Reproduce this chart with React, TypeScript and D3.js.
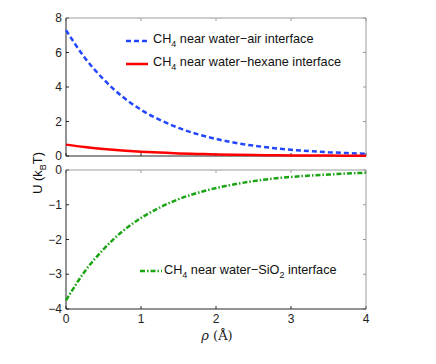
import React from "react";
import * as d3 from "d3";

const rho = [0, 0.25, 0.5, 0.75, 1, 1.25, 1.5, 1.75, 2, 2.25, 2.5, 2.75, 3, 3.25, 3.5, 3.75, 4];
const airU = [7.3, 5.7, 4.45, 3.45, 2.68, 2.1, 1.63, 1.27, 0.99, 0.77, 0.6, 0.47, 0.36, 0.28, 0.22, 0.17, 0.13];
const hexaneU = [0.66, 0.52, 0.41, 0.32, 0.25, 0.2, 0.15, 0.12, 0.09, 0.07, 0.055, 0.045, 0.035, 0.028, 0.022, 0.018, 0.015];
const sio2U = [-3.75, -2.92, -2.28, -1.77, -1.38, -1.08, -0.84, -0.66, -0.52, -0.41, -0.32, -0.25, -0.2, -0.16, -0.13, -0.1, -0.08];
const xTicks = [0, 1, 2, 3, 4];
const topTicks = [0, 2, 4, 6, 8];
const bottomTicks = [-4, -3, -2, -1, 0];

const W = 436, H = 364;
const left = 66, right = 366;
const font = "'Liberation Sans', Arial, sans-serif";
const dark = "#262626";
const light = "#9a9a9a";

export default function App() {
  const x = d3.scaleLinear().domain([0, 4]).range([left, right]);
  const yTop = d3.scaleLinear().domain([0, 8]).range([156, 18]);
  const yBot = d3.scaleLinear().domain([-4, 0]).range([309, 170]);

  const lineTop = d3.line<number>().x((_, i) => x(rho[i])).y(d => yTop(d)).curve(d3.curveMonotoneX);
  const lineBot = d3.line<number>().x((_, i) => x(rho[i])).y(d => yBot(d)).curve(d3.curveMonotoneX);

  // one boxed panel with inward ticks on all four sides
  const panel = (y: d3.ScaleLinear<number, number>, ticks: number[], showX: boolean) => {
    const [y0, y1] = y.range();
    return (
      <g>
        {xTicks.map(t => (
          <g key={"x" + t}>
            <line x1={x(t)} x2={x(t)} y1={y0} y2={y0 - 3} stroke={dark} />
            <line x1={x(t)} x2={x(t)} y1={y1} y2={y1 + 3} stroke={light} />
            {showX && (
              <text x={x(t)} y={y0 + 14} textAnchor="middle" fontSize={12} fontFamily={font} fill="#222">{t}</text>
            )}
          </g>
        ))}
        {ticks.map(t => (
          <g key={"y" + t}>
            <line x1={left} x2={left + 3} y1={y(t)} y2={y(t)} stroke={dark} />
            <line x1={right} x2={right - 3} y1={y(t)} y2={y(t)} stroke={light} />
            <text x={left - 4} y={y(t) + 4} textAnchor="end" fontSize={12} fontFamily={font} fill="#222">
              {t < 0 ? "\u2212" + Math.abs(t) : t}
            </text>
          </g>
        ))}
        <line x1={left} x2={right} y1={y1} y2={y1} stroke={light} />
        <line x1={right} x2={right} y1={y1} y2={y0} stroke={light} />
        <line x1={left} x2={right} y1={y0} y2={y0} stroke={dark} />
        <line x1={left} x2={left} y1={y1} y2={y0} stroke={dark} />
      </g>
    );
  };

  const legendText = (tx: number, ty: number, rest: string, mid?: [string, string]) => (
    <text x={tx} y={ty} fontSize={12.7} fontFamily={font} fill="#111">
      CH<tspan dy={4} fontSize={9}>4</tspan>
      <tspan dy={-4}>{mid ? mid[0] : rest}</tspan>
      {mid && (
        <>
          <tspan dy={4} fontSize={9}>2</tspan>
          <tspan dy={-4}>{mid[1]}</tspan>
        </>
      )}
    </text>
  );

  return (
    <svg width={W} height={H} style={{ position: "absolute", left: 0, top: 0, background: "#fff" }}>
      {panel(yTop, topTicks, false)}
      {panel(yBot, bottomTicks, true)}

      <path d={lineTop(airU) || ""} fill="none" stroke="#2346ff" strokeWidth={2.5} strokeDasharray="5,3" />
      <path d={lineTop(hexaneU) || ""} fill="none" stroke="#ff0000" strokeWidth={2.5} />
      <path d={lineBot(sio2U) || ""} fill="none" stroke="#1aa312" strokeWidth={2.5} strokeDasharray="5,2,1.5,2" />

      <line x1={126} x2={148} y1={41} y2={41} stroke="#2346ff" strokeWidth={2.5} strokeDasharray="5,3" />
      {legendText(153, 43, " near water\u2212air interface")}
      <line x1={126} x2={148} y1={64} y2={64} stroke="#ff0000" strokeWidth={2.5} />
      {legendText(153, 66, " near water\u2212hexane interface")}
      <line x1={140} x2={162} y1={271} y2={271} stroke="#1aa312" strokeWidth={2.5} strokeDasharray="5,2,1.5,2" />
      {legendText(164, 274, "", [" near water\u2212SiO", " interface"])}

      <text transform="translate(42,173) rotate(-90)" textAnchor="middle" fontSize={13} fontFamily={font} fill="#111">
        U (k<tspan dy={4} fontSize={9}>B</tspan><tspan dy={-4}>T)</tspan>
      </text>
      <text x={217} y={340} textAnchor="middle" fontSize={13} fontFamily="'DejaVu Serif', serif" fill="#222">
        <tspan fontStyle="italic">ρ</tspan> (Å)
      </text>
    </svg>
  );
}
